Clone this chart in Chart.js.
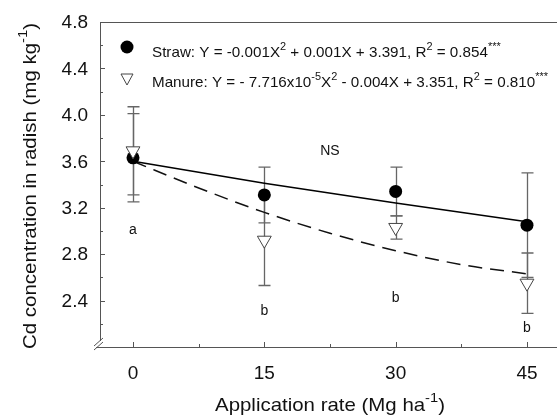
<!DOCTYPE html>
<html>
<head>
<meta charset="utf-8">
<script src="https://cdn.jsdelivr.net/npm/chart.js@4/dist/chart.umd.min.js"></script>
<style>
  html, body { margin: 0; padding: 0; background: #fff; }
  #wrap { width: 557px; height: 416px; position: relative; }
</style>
</head>
<body>
<div id="wrap"><canvas id="cdChart" width="557" height="416"></canvas></div>
<script>
// values
const rates = [0, 15, 30, 45];
const strawMeans = [3.63, 3.31, 3.34, 3.05];
const strawErrors = [0.38, 0.24, 0.21, 0.45];
const manureMeans = [3.69, 2.92, 3.03, 2.55];
const manureErrors = [0.38, 0.39, 0.10, 0.26];

// fitted curves as they appear on the plot
const strawFitX = [0, 15, 30, 45];
const strawFitY = [3.60, 3.41, 3.24, 3.08];
const manureFitX = [0, 7.5, 15, 22.5, 30, 37.5, 45];
const manureFitY = [3.60, 3.37, 3.16, 2.98, 2.83, 2.71, 2.63];

const xTicks = [0, 15, 30, 45];
const xMinorTicks = [7.5, 22.5, 37.5];
const yTicks = [2.4, 2.8, 3.2, 3.6, 4.0, 4.4, 4.8];
const yMinorTicks = [2.2, 2.6, 3.0, 3.4, 3.8, 4.2, 4.6];

// significance letters
const letterX = [0, 15, 30, 45];
const letterY = [3.01, 2.31, 2.42, 2.16];
const letterText = ['a', 'b', 'b', 'b'];

const axisColor = '#555';
const font = '"Liberation Sans", Arial, sans-serif';

function pts(xs, ys) {
    return xs.map((x, i) => ({ x: x, y: ys[i] }));
}

function richWidth(ctx, parts, size) {
    let w = 0;
    parts.forEach(p => {
        ctx.font = (p[1] ? size * 0.72 : size) + 'px ' + font;
        w += ctx.measureText(p[0]).width;
    });
    return w;
}

// draws text with superscript parts; parts = [[text, isSup], ...]
function richText(ctx, parts, x, y, size, sx) {
    ctx.save();
    ctx.translate(x, y);
    ctx.scale(sx || 1, 1);
    let cx = 0;
    ctx.textBaseline = 'alphabetic';
    ctx.textAlign = 'left';
    parts.forEach(p => {
        ctx.font = (p[1] ? size * 0.72 : size) + 'px ' + font;
        ctx.fillText(p[0], cx, p[1] ? -size * 0.45 : 0);
        cx += ctx.measureText(p[0]).width;
    });
    ctx.restore();
}

const errorBars = {
    id: 'errorBars',
    beforeDatasetsDraw(chart) {
        const ctx = chart.ctx;
        const xs = chart.scales.x, ys = chart.scales.y;
        ctx.save();
        ctx.strokeStyle = '#666';
        ctx.lineWidth = 1.3;
        const draw = (means, errs) => {
            means.forEach((m, i) => {
                const px = Math.round(xs.getPixelForValue(rates[i])) + 0.5;
                const top = ys.getPixelForValue(m + errs[i]);
                const bot = ys.getPixelForValue(m - errs[i]);
                ctx.beginPath();
                ctx.moveTo(px, top); ctx.lineTo(px, bot);
                ctx.moveTo(px - 6, top); ctx.lineTo(px + 6, top);
                ctx.moveTo(px - 6, bot); ctx.lineTo(px + 6, bot);
                ctx.stroke();
            });
        };
        draw(strawMeans, strawErrors);
        draw(manureMeans, manureErrors);
        ctx.restore();
    }
};

const frame = {
    id: 'frame',
    afterDraw(chart) {
        const ctx = chart.ctx;
        const a = chart.chartArea;
        const xs = chart.scales.x, ys = chart.scales.y;
        ctx.save();
        ctx.strokeStyle = axisColor;
        ctx.lineWidth = 1;
        // left, top, bottom lines
        ctx.beginPath();
        ctx.moveTo(a.left + 0.5, a.top + 0.5);
        ctx.lineTo(a.left + 0.5, a.bottom - 6);
        ctx.moveTo(a.left + 0.5, a.top + 0.5);
        ctx.lineTo(a.right, a.top + 0.5);
        ctx.moveTo(a.left - 4, a.bottom + 0.5);
        ctx.lineTo(a.right, a.bottom + 0.5);
        ctx.stroke();
        // axis break marks
        ctx.beginPath();
        ctx.moveTo(a.left - 6, a.bottom - 1); ctx.lineTo(a.left + 3, a.bottom - 9);
        ctx.moveTo(a.left - 6, a.bottom + 3); ctx.lineTo(a.left + 3, a.bottom - 5);
        ctx.stroke();
        // ticks pointing inward
        ctx.beginPath();
        yTicks.forEach(v => {
            const py = Math.round(ys.getPixelForValue(v)) + 0.5;
            ctx.moveTo(a.left, py); ctx.lineTo(a.left + 5, py);
        });
        yMinorTicks.forEach(v => {
            const py = Math.round(ys.getPixelForValue(v)) + 0.5;
            ctx.moveTo(a.left, py); ctx.lineTo(a.left + 3, py);
        });
        xTicks.forEach(v => {
            const px = Math.round(xs.getPixelForValue(v)) + 0.5;
            ctx.moveTo(px, a.bottom); ctx.lineTo(px, a.bottom - 5);
        });
        xMinorTicks.forEach(v => {
            const px = Math.round(xs.getPixelForValue(v)) + 0.5;
            ctx.moveTo(px, a.bottom); ctx.lineTo(px, a.bottom - 3);
        });
        ctx.stroke();

        // tick labels
        ctx.fillStyle = '#111';
        ctx.font = '19px ' + font;
        ctx.textAlign = 'right';
        ctx.textBaseline = 'middle';
        yTicks.forEach(v => {
            ctx.fillText(v.toFixed(1), 88, ys.getPixelForValue(v) + 1);
        });
        ctx.textAlign = 'center';
        xTicks.forEach(v => {
            ctx.fillText(String(v), xs.getPixelForValue(v), 374);
        });

        // axis titles
        const xt = [['Application rate (Mg ha', false], ['-1', true], [')', false]];
        let tw = richWidth(ctx, xt, 19);
        let sx = 230 / tw;
        richText(ctx, xt, 330 - 115, 411, 19, sx);

        const yt = [['Cd concentration in radish (mg kg', false], ['-1', true], [')', false]];
        tw = richWidth(ctx, yt, 19);
        sx = 326 / tw;
        ctx.save();
        ctx.translate(36, 186);
        ctx.rotate(-Math.PI / 2);
        richText(ctx, yt, -163, 0, 19, sx);
        ctx.restore();

        // legend
        ctx.fillStyle = '#000';
        ctx.beginPath();
        ctx.arc(127, 47, 6.5, 0, Math.PI * 2);
        ctx.fill();
        ctx.fillStyle = '#fff';
        ctx.strokeStyle = '#444';
        ctx.lineWidth = 1;
        ctx.beginPath();
        ctx.moveTo(121, 74); ctx.lineTo(133, 74); ctx.lineTo(127, 85); ctx.closePath();
        ctx.fill(); ctx.stroke();
        ctx.fillStyle = '#111';
        const strawLabel = [['Straw: Y = -0.001X', false], ['2', true], [' + 0.001X + 3.391, R', false], ['2', true], [' = 0.854', false], ['***', true]];
        const manureLabel = [['Manure: Y = - 7.716x10', false], ['-5', true], ['X', false], ['2', true], [' - 0.004X + 3.351, R', false], ['2', true], [' = 0.810', false], ['***', true]];
        const lsx = 396 / richWidth(ctx, manureLabel, 15);
        richText(ctx, strawLabel, 152, 57, 15, lsx);
        richText(ctx, manureLabel, 152, 87, 15, lsx);

        // annotations
        ctx.font = '14px ' + font;
        ctx.textAlign = 'center';
        ctx.textBaseline = 'middle';
        ctx.fillText('NS', xs.getPixelForValue(22.5), ys.getPixelForValue(3.69));
        letterX.forEach((x, i) => {
            ctx.fillText(letterText[i], xs.getPixelForValue(x), ys.getPixelForValue(letterY[i]));
        });
        ctx.restore();
    }
};

const ctx1 = document.getElementById('cdChart').getContext('2d');
new Chart(ctx1, {
    type: 'scatter',
    data: {
        datasets: [
            {
                label: 'Manure',
                data: pts(rates, manureMeans),
                pointStyle: 'triangle',
                rotation: 180,
                pointRadius: 8,
                backgroundColor: '#fff',
                borderColor: '#444',
                borderWidth: 1,
                order: 0
            },
            {
                label: 'Straw',
                data: pts(rates, strawMeans),
                pointStyle: 'circle',
                pointRadius: 6.5,
                backgroundColor: '#000',
                borderColor: '#000',
                borderWidth: 0,
                order: 1
            },
            {
                label: 'Straw fit',
                data: pts(strawFitX, strawFitY),
                showLine: true,
                pointRadius: 0,
                borderColor: '#000',
                borderWidth: 1.5,
                tension: 0,
                order: 2
            },
            {
                label: 'Manure fit',
                data: pts(manureFitX, manureFitY),
                showLine: true,
                pointRadius: 0,
                borderColor: '#111',
                borderWidth: 1.5,
                borderDash: [14, 8],
                cubicInterpolationMode: 'monotone',
                order: 3
            }
        ]
    },
    options: {
        responsive: false,
        animation: false,
        layout: { autoPadding: false, padding: { left: 100, top: 22, right: 0, bottom: 69 } },
        plugins: {
            legend: { display: false },
            tooltip: { enabled: false }
        },
        scales: {
            x: { type: 'linear', display: false, min: -3.77, max: 48.43 },
            y: { type: 'linear', display: false, min: 2.0, max: 4.8 }
        }
    },
    plugins: [errorBars, frame]
});
</script>
</body>
</html>
